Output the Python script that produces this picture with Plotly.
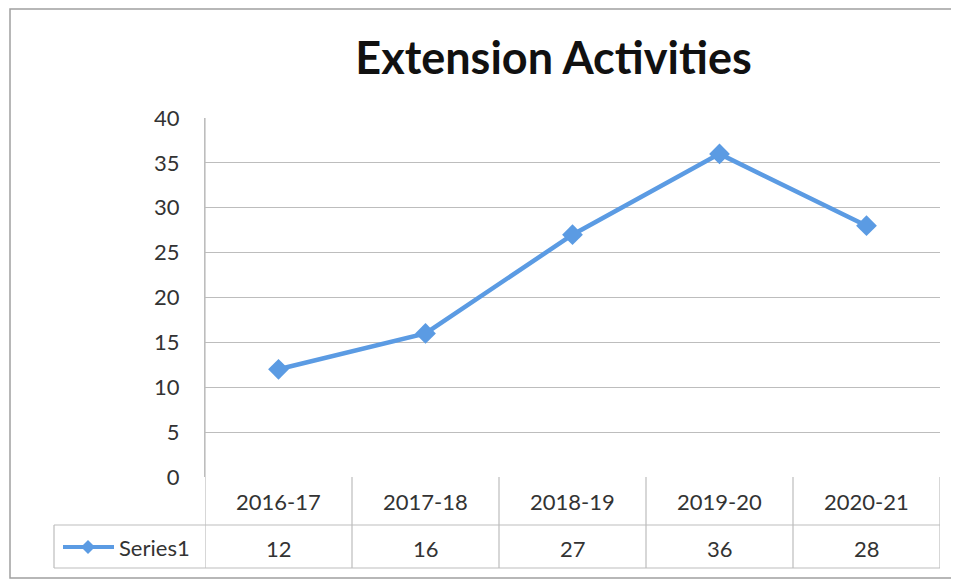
import plotly.graph_objects as go

categories = ["2016-17", "2017-18", "2018-19", "2019-20", "2020-21"]
values = [12, 16, 27, 36, 28]
series_name = "Series1"
title_text = "Extension Activities"
y_ticks = [0, 5, 10, 15, 20, 25, 30, 35, 40]

OFF = 8  # page body margin in the browser
W, H = 959 - OFF, 582 - OFF
L, R, T, B = 205, 940, 118, 477  # plot area in reference pixels

def px(x):
    return (x - L) / (R - L)

def py(y):
    return (B - y) / (B - T)

LINE_COLOR = "#5B9BE3"
GRID = "#BDBDBD"
TEXT = "#333333"
FONT = "Lato"
FS = 22

fig = go.Figure()
fig.add_trace(go.Scatter(
    x=categories, y=values, mode="lines+markers", name=series_name,
    line=dict(color=LINE_COLOR, width=4.5),
    marker=dict(symbol="diamond", size=16, color=LINE_COLOR),
    showlegend=False, cliponaxis=False,
))

shapes = []
n = len(categories)
shapes.append(dict(type="line", xref="paper", yref="paper", x0=px(54), x1=1, y0=py(525), y1=py(525),
                   line=dict(color=GRID, width=1.2)))
shapes.append(dict(type="line", xref="paper", yref="paper", x0=px(54), x1=1, y0=py(568), y1=py(568),
                   line=dict(color=GRID, width=1.2)))
for i in range(n + 1):
    shapes.append(dict(type="line", xref="x", yref="paper", x0=i - 0.5, x1=i - 0.5,
                       y0=0 if i > 0 else 1, y1=py(568),
                       line=dict(color=GRID, width=1.2)))
shapes.append(dict(type="line", xref="paper", yref="paper", x0=px(54), x1=px(54), y0=py(525), y1=py(568),
                   line=dict(color=GRID, width=1.2)))
shapes.append(dict(type="line", xref="paper", yref="paper", x0=px(63), x1=px(114), y0=py(547), y1=py(547),
                   line=dict(color=LINE_COLOR, width=4)))
d = 7
shapes.append(dict(type="path", xref="paper", yref="paper",
                   path=f"M {px(88-d)} {py(547)} L {px(88)} {py(547-d)} L {px(88+d)} {py(547)} L {px(88)} {py(547+d)} Z",
                   fillcolor=LINE_COLOR, line=dict(width=0)))
# outer frame
shapes.append(dict(type="rect", xref="paper", yref="paper", x0=px(10), x1=px(975), y0=py(578), y1=py(OFF + 1),
                   line=dict(color="#A0A0A0", width=1.5), fillcolor="rgba(0,0,0,0)", layer="below"))

annotations = []
for c, v in zip(categories, values):
    annotations.append(dict(x=c, xref="x", y=py(501), yref="paper", text=c, showarrow=False,
                            font=dict(family=FONT, size=FS, color=TEXT), xanchor="center", yanchor="middle"))
    annotations.append(dict(x=c, xref="x", y=py(548), yref="paper", text=str(v), showarrow=False,
                            font=dict(family=FONT, size=FS, color=TEXT), xanchor="center", yanchor="middle"))
annotations.append(dict(x=px(117), xref="paper", y=py(547), yref="paper", text=series_name, showarrow=False,
                        font=dict(family=FONT, size=FS, color=TEXT), xanchor="left", yanchor="middle"))

fig.update_layout(
    width=W, height=H,
    margin=dict(l=L - OFF, r=959 - R, t=T - OFF, b=582 - B, pad=0),
    paper_bgcolor="white", plot_bgcolor="white",
    title=dict(text=f"<b>{title_text}</b>", x=((355 + 752) / 2 - OFF) / W, xanchor="center",
               y=1 - (58 - OFF) / H, yanchor="middle",
               font=dict(family=FONT, size=45, color="#111111")),
    shapes=shapes, annotations=annotations,
    xaxis=dict(type="category", range=[-0.5, n - 0.5], showticklabels=False, showgrid=False,
               zeroline=False, showline=False, ticks=""),
    yaxis=dict(range=[0, 40], tickvals=y_ticks, showgrid=True, gridcolor=GRID, gridwidth=1.2,
               zeroline=False, showline=True, linecolor=GRID, linewidth=1.2, ticks="",
               ticklabelstandoff=20,
               tickfont=dict(family=FONT, size=FS, color=TEXT)),
    font=dict(family=FONT),
)

fig.write_html("out.html")
